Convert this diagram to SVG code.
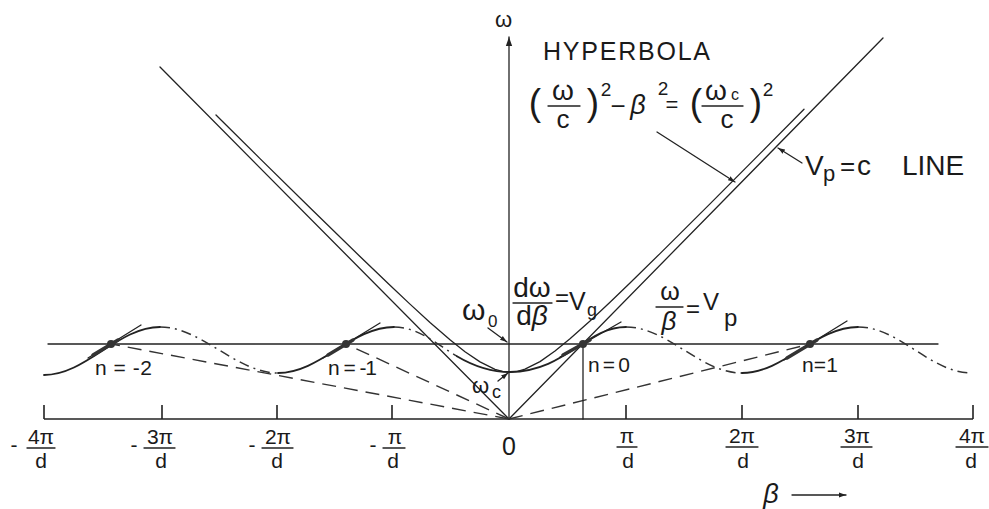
<svg xmlns="http://www.w3.org/2000/svg" width="989" height="509" viewBox="0 0 989 509">
<defs>
<marker id="ah" viewBox="0 0 10 10" refX="10" refY="5" markerWidth="9" markerHeight="9" markerUnits="userSpaceOnUse" orient="auto"><path d="M0,1.5 L10,5 L0,8.5 Z" fill="#222"/></marker>
<marker id="ahs" viewBox="0 0 10 10" refX="10" refY="5" markerWidth="7" markerHeight="7" markerUnits="userSpaceOnUse" orient="auto"><path d="M0,1.5 L10,5 L0,8.5 Z" fill="#222"/></marker>
<style>
.ln{stroke:#222;stroke-width:1.3;fill:none;stroke-linecap:round;stroke-linejoin:round}
.ax{stroke:#222;stroke-width:1.6;fill:none}
.dash{stroke:#333;stroke-width:1.4;fill:none;stroke-dasharray:14 8}
.dd{stroke:#333;stroke-width:1.5;fill:none;stroke-dasharray:10 5 2 5}
.sol{stroke:#222;stroke-width:1.8;fill:none;stroke-linecap:round}
.thk{stroke:#333;stroke-width:3.5;stroke-linecap:round}
.t{font-family:"Liberation Sans",Arial,sans-serif;fill:#1a1a1a}
.m{text-anchor:middle}
.i{font-style:italic}
</style>
</defs>
<rect width="989" height="509" fill="#fff"/>

<g id="axes">
<line class="ax" x1="44" y1="419" x2="973" y2="419"/>
<path class="ax" d="M44,405V419 M162,405V419 M277,405V419 M392,405V419 M626,405V419 M742,405V419 M858,405V419 M973,405V419"/>
<line class="ln" x1="509" y1="419" x2="509" y2="37" marker-end="url(#ah)"/>
<text class="t" x="495" y="27" font-size="22">ω</text>
</g>

<g id="tick-labels" class="t">
<g id="lbl-m4">
<text x="14" y="452" font-size="21" class="m">-</text>
<text x="41" y="444" font-size="21" class="m">4π</text>
<line class="ln" x1="27" y1="448" x2="55" y2="448"/>
<text x="41" y="468" font-size="21" class="m">d</text>
</g>
<g id="lbl-m3">
<text x="134" y="452" font-size="21" class="m">-</text>
<text x="160" y="444" font-size="21" class="m">3π</text>
<line class="ln" x1="144" y1="448" x2="175" y2="448"/>
<text x="161" y="468" font-size="21" class="m">d</text>
</g>
<g id="lbl-m2">
<text x="252" y="452" font-size="21" class="m">-</text>
<text x="278" y="444" font-size="21" class="m">2π</text>
<line class="ln" x1="262" y1="448" x2="293" y2="448"/>
<text x="277" y="468" font-size="21" class="m">d</text>
</g>
<g id="lbl-m1">
<text x="373" y="452" font-size="21" class="m">-</text>
<text x="395" y="444" font-size="21" class="m">π</text>
<line class="ln" x1="383" y1="448" x2="405" y2="448"/>
<text x="393" y="468" font-size="21" class="m">d</text>
</g>
<text x="509" y="455" font-size="25" class="m">0</text>
<g id="lbl-p1">
<text x="627" y="443" font-size="21" class="m">π</text>
<line class="ln" x1="617" y1="447" x2="637" y2="447"/>
<text x="628" y="468" font-size="21" class="m">d</text>
</g>
<g id="lbl-p2">
<text x="742" y="443" font-size="21" class="m">2π</text>
<line class="ln" x1="726" y1="447" x2="758" y2="447"/>
<text x="743" y="468" font-size="21" class="m">d</text>
</g>
<g id="lbl-p3">
<text x="857" y="443" font-size="21" class="m">3π</text>
<line class="ln" x1="841" y1="447" x2="872" y2="447"/>
<text x="858" y="468" font-size="21" class="m">d</text>
</g>
<g id="lbl-p4">
<text x="972" y="443" font-size="21" class="m">4π</text>
<line class="ln" x1="956" y1="447" x2="988" y2="447"/>
<text x="971" y="468" font-size="21" class="m">d</text>
</g>
<g id="beta-axis">
<text x="771" y="503" font-size="27" class="m i">β</text>
<line class="ln" x1="792" y1="495" x2="846" y2="495" marker-end="url(#ahs)"/>
</g>
</g>

<g id="light-lines">
<line class="ln" x1="160" y1="67" x2="509" y2="419"/>
<line class="ln" x1="509" y1="419" x2="883" y2="38"/>
</g>

<g id="hyperbola">
<path class="ln" d="M216,115 L260,158.6 L310,207.8 L360,256.5 L390,285.3 L410,304.1 L430,322.4 L450,339.8 L465,351.7 L480,361.9 L495,369.3 L502.5,371.3 L510,372 L517.5,371.3 L525,369.2 L540,361.6 L555,351 L570,338.8 L590,321 L610,302.2 L630,283 L660,253.6 L710,203.9 L760,153.6 L804,109.2"/>
</g>

<g id="omega0-line">
<line class="ln" x1="48" y1="344" x2="938" y2="344"/>
</g>

<g id="connectors">
<line class="dash" x1="509" y1="419" x2="111" y2="344"/>
<line class="dash" x1="509" y1="419" x2="346" y2="344"/>
<line class="dash" x1="509" y1="419" x2="810" y2="344"/>
<line class="ln" x1="583" y1="344" x2="583" y2="419"/>
</g>

<g id="dispersion">
<path class="sol" d="M44,375 C86,375 118,327 160,327"/>
<path class="dd" d="M160,327 C202,327 236,373 278,373"/>
<path class="sol" d="M278,373 C320,373 352,327 394,327"/>
<path class="dd" d="M394,327 C418,327 435.2,343.2 456.9,356.2"/>
<path class="sol" d="M456.9,356.2 C471.4,364.8 488,372 510,372"/>
<path class="sol" d="M510,372 C565,372 586,327 626,327"/>
<path class="dd" d="M626,327 C668,327 700,373 742,373"/>
<path class="sol" d="M742,373 C784,373 816,327 858,327"/>
<path class="dd" d="M858,327 C900,327 930,373 972,373"/>
</g>

<g id="tangents">
<line class="ln" x1="88" y1="358" x2="141" y2="325"/>
<line class="thk" x1="93" y1="355" x2="118" y2="340"/>
<line class="ln" x1="323" y1="358" x2="380" y2="323"/>
<line class="thk" x1="328" y1="355" x2="353" y2="340"/>
<line class="ln" x1="560" y1="357" x2="621" y2="322"/>
<line class="thk" x1="563" y1="355" x2="590" y2="340"/>
<line class="ln" x1="784" y1="360" x2="847" y2="321"/>
<line class="thk" x1="787" y1="358" x2="817" y2="340"/>
</g>

<g id="points" fill="#333">
<circle id="pt-n-2" cx="111" cy="344" r="4"/>
<circle id="pt-n-1" cx="346" cy="344" r="4"/>
<circle id="pt-n0" cx="583" cy="344" r="4"/>
<circle id="pt-n1" cx="810" cy="344" r="4"/>
</g>

<g id="n-labels" class="t">
<text x="95" y="375" font-size="21" textLength="57" lengthAdjust="spacing">n = -2</text>
<text x="328" y="375" font-size="21" textLength="49" lengthAdjust="spacing">n = -1</text>
<text x="588" y="372" font-size="21" textLength="42" lengthAdjust="spacing">n = 0</text>
<text x="802" y="372" font-size="21" textLength="36" lengthAdjust="spacing">n = 1</text>
</g>

<g id="hyperbola-label" class="t">
<text x="543" y="60" font-size="25" textLength="167" lengthAdjust="spacing">HYPERBOLA</text>
<text x="535" y="115" font-size="37" class="m">(</text>
<text x="563" y="100" font-size="28" class="m">ω</text>
<line class="ln" x1="548" y1="106" x2="580" y2="106"/>
<text x="563" y="128" font-size="26" class="m">c</text>
<text x="593" y="115" font-size="37" class="m">)</text>
<text x="606" y="96" font-size="19" class="m">2</text>
<text x="618" y="115" font-size="26" class="m">−</text>
<text x="638" y="114" font-size="27" class="m i">β</text>
<text x="663" y="95" font-size="19" class="m">2</text>
<text x="672" y="112" font-size="22" class="m">=</text>
<text x="696" y="115" font-size="37" class="m">(</text>
<text x="716" y="100" font-size="28" class="m">ω</text>
<text x="735" y="100" font-size="16" class="m">c</text>
<line class="ln" x1="702" y1="106" x2="743" y2="106"/>
<text x="727" y="128" font-size="26" class="m">c</text>
<text x="756" y="115" font-size="37" class="m">)</text>
<text x="768" y="96" font-size="19" class="m">2</text>
<line class="ln" x1="657" y1="132" x2="735" y2="182" marker-end="url(#ahs)"/>
</g>

<g id="vp-c-label" class="t">
<line class="ln" x1="802" y1="163" x2="778" y2="148" marker-end="url(#ahs)"/>
<text x="805" y="175" font-size="28">V</text>
<text x="823" y="181" font-size="22">p</text>
<text x="840" y="175" font-size="26">=</text>
<text x="857" y="175" font-size="28">c</text>
<text x="902" y="175" font-size="28">LINE</text>
</g>

<g id="vg-label" class="t">
<text x="532" y="297" font-size="28" class="m">dω</text>
<line class="ln" x1="513" y1="303" x2="552" y2="303"/>
<text x="532" y="325" font-size="28" class="m">d<tspan class="i">β</tspan></text>
<text x="562" y="306" font-size="24" class="m">=</text>
<text x="569" y="310" font-size="25">V</text>
<text x="587" y="316" font-size="18">g</text>
</g>

<g id="vp-label" class="t">
<text x="670" y="300" font-size="25" class="m">ω</text>
<line class="ln" x1="656" y1="307" x2="683" y2="307"/>
<text x="669" y="330" font-size="26" class="m i">β</text>
<text x="693" y="317" font-size="24" class="m">=</text>
<text x="703" y="310" font-size="24">V</text>
<text x="724" y="326" font-size="24">p</text>
</g>

<g id="omega0-label" class="t">
<text x="462" y="320" font-size="30">ω</text>
<text x="488" y="327" font-size="17">0</text>
<line class="ln" x1="488" y1="328" x2="507" y2="342" marker-end="url(#ahs)"/>
</g>

<g id="omegac-label" class="t">
<text x="472" y="393" font-size="22">ω</text>
<text x="492" y="398" font-size="18">c</text>
<line class="ln" x1="498" y1="381" x2="508" y2="373" marker-end="url(#ahs)"/>
</g>
</svg>
